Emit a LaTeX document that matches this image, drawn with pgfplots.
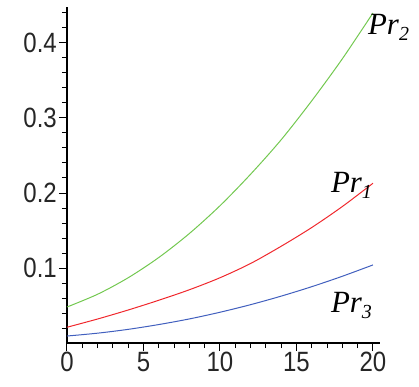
\documentclass[border=0pt]{standalone}
\usepackage{fontspec}
\setmainfont{Liberation Sans}
\newfontfamily\tickfont[FakeStretch=0.86]{Liberation Sans}
\newfontfamily\lblfont{Liberation Serif}
\usepackage{pgfplots}
\pgfplotsset{compat=1.18}
\definecolor{cgreen}{RGB}{115,200,80}
\definecolor{cred}{RGB}{240,40,45}
\definecolor{cblue}{RGB}{65,95,190}
\newcommand{\PrLbl}[1]{{\lblfont\fontsize{31}{31}\selectfont\itshape Pr\raisebox{-6bp}{\fontsize{20}{20}\selectfont #1}}}
\begin{document}
\begin{tikzpicture}
\begin{axis}[
  scale only axis,
  width=313bp, height=336bp,
  xmin=0, xmax=20.46, ymin=0, ymax=0.448,
  axis lines*=left,
  axis line style={black, line width=1.2bp},
  clip=false,
  xtick={0,5,10,15,20},
  xticklabels={0,5,10,15,20},
  ytick={0.1,0.2,0.3,0.4},
  yticklabels={0.1,0.2,0.3,0.4},
  minor xtick={1,2,3,4,6,7,8,9,11,12,13,14,16,17,18,19},
  minor ytick={0.02,0.04,0.06,0.08,0.12,0.14,0.16,0.18,0.22,0.24,0.26,0.28,0.32,0.34,0.36,0.38,0.42,0.44},
  tick align=outside,
  major tick length=8bp,
  minor tick length=5bp,
  every tick/.style={black, line width=1bp},
  every minor tick/.style={black, line width=1bp},
  ticklabel style={font=\tickfont\fontsize{28}{28}\selectfont, text=black!85},
  yticklabel style={inner sep=2bp},
  xticklabel style={inner sep=1bp},
]
\addplot[cgreen, line width=1bp, smooth] coordinates {
 (0,0.048) (2,0.065) (4,0.087) (6,0.114) (8,0.146) (10,0.183)
 (12,0.225) (14,0.271) (16,0.323) (18,0.379) (20,0.440)};
\addplot[cred, line width=1bp, smooth] coordinates {
 (0,0.021) (2,0.032) (4,0.044) (6,0.057) (8,0.071) (10,0.087)
 (12,0.106) (14,0.129) (16,0.154) (18,0.182) (20,0.213)};
\addplot[cblue, line width=1bp, smooth] coordinates {
 (0,0.0093) (2,0.0131) (4,0.0182) (6,0.0246) (8,0.0321) (10,0.0410)
 (12,0.0511) (14,0.0625) (16,0.0751) (18,0.0890) (20,0.1041)};
\node[anchor=base west, inner sep=0pt] at (axis cs:19.67,0.411) {\PrLbl{2}};
\node[anchor=base west, inner sep=0pt] at (axis cs:17.25,0.201) {\PrLbl{\itshape 1}};
\node[anchor=base west, inner sep=0pt] at (axis cs:17.25,0.041) {\PrLbl{\itshape 3}};
\coordinate (O) at (axis cs:0,0);
\end{axis}
\path[use as bounding box] ([shift={(-67bp,-44bp)}]O) rectangle ([shift={(352bp,343bp)}]O);
\end{tikzpicture}
\end{document}
